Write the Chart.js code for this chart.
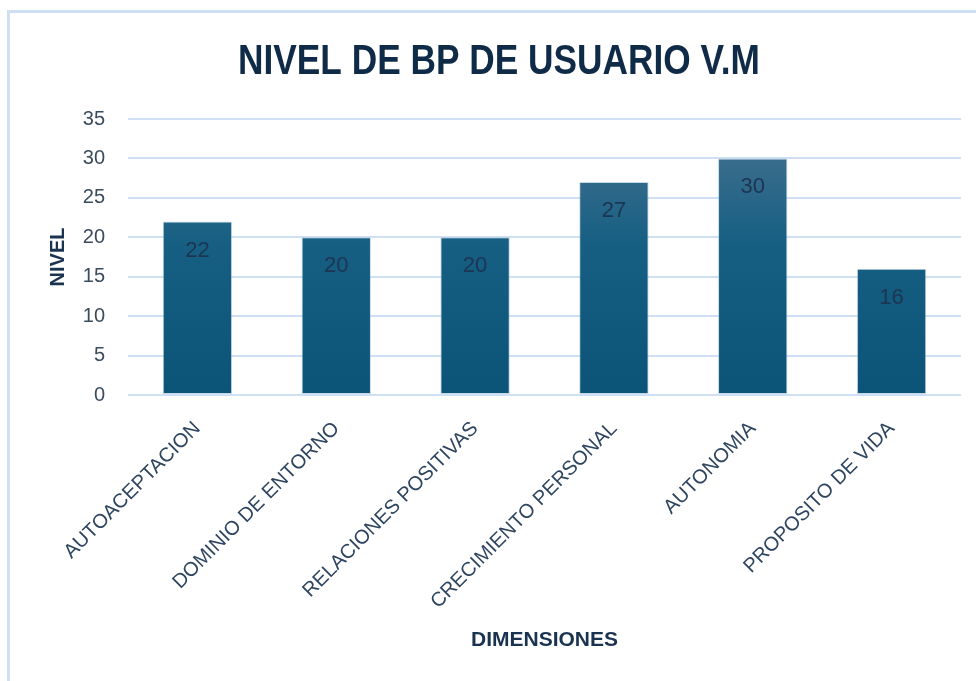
<!DOCTYPE html>
<html>
<head>
<meta charset="utf-8">
<script src="https://cdn.jsdelivr.net/npm/chart.js@4.4.1/dist/chart.umd.min.js"></script>
<style>
  html, body { margin: 0; padding: 0; background: #ffffff; overflow: hidden; }
  #wrap { position: relative; width: 976px; height: 681px; }
  #frame { position: absolute; left: 7px; top: 10px; width: 1000px; height: 700px; border: 3px solid #cddff3; box-sizing: border-box; pointer-events: none; }
  canvas { position: absolute; left: 0; top: 0; }
</style>
</head>
<body>
<div id="wrap">
  <div id="frame"></div>
  <canvas id="c" width="976" height="681"></canvas>
</div>
<script>
const categories = ["AUTOACEPTACION", "DOMINIO DE ENTORNO", "RELACIONES POSITIVAS", "CRECIMIENTO PERSONAL", "AUTONOMIA", "PROPOSITO DE VIDA"];
const nivelValues = [22, 20, 20, 27, 30, 16];
const chartTitle = "NIVEL DE BP DE USUARIO V.M";
const yAxisTitle = "NIVEL";
const xAxisTitle = "DIMENSIONES";
const yTicksMin = 0, yTicksMax = 35, yTickStep = 5;

function barGradient(ctx) {
  const chart = ctx.chart;
  const area = chart.chartArea;
  if (!area) return '#115f80';
  const el = ctx.element;
  let top = area.top, bottom = area.bottom;
  if (el && typeof el.y === 'number' && typeof el.base === 'number') { top = el.y; bottom = el.base; }
  const g = chart.ctx.createLinearGradient(0, top, 0, bottom);
  g.addColorStop(0, '#4a7391');
  g.addColorStop(0.45, '#165f83');
  g.addColorStop(1, '#0b5478');
  return g;
}

// condensed bold title drawn as real canvas text
const titlePlugin = {
  id: 'condensedTitle',
  afterDraw(chart) {
    const ctx = chart.ctx;
    ctx.save();
    ctx.font = 'bold 43px "Liberation Sans", Arial, sans-serif';
    ctx.fillStyle = '#102b47';
    ctx.textAlign = 'center';
    ctx.textBaseline = 'alphabetic';
    const w = ctx.measureText(chartTitle).width;
    const targetW = 522;
    const sx = targetW / w;
    ctx.translate(499, 74);
    ctx.scale(sx, 1);
    ctx.fillText(chartTitle, 0, 0);
    ctx.restore();
  }
};

const dataLabelPlugin = {
  id: 'dataLabels',
  afterDatasetsDraw(chart) {
    const ctx = chart.ctx;
    const meta = chart.getDatasetMeta(0);
    ctx.save();
    ctx.font = '22px "Liberation Sans", Arial, sans-serif';
    ctx.fillStyle = '#1d3452';
    ctx.textAlign = 'center';
    ctx.textBaseline = 'middle';
    meta.data.forEach((bar, i) => {
      ctx.fillText(String(chart.data.datasets[0].data[i]), bar.x, bar.y + 29);
    });
    ctx.restore();
  }
};

new Chart(document.getElementById('c'), {
  type: 'bar',
  data: {
    labels: categories,
    datasets: [{
      data: nivelValues,
      backgroundColor: barGradient,
      borderColor: 'rgba(150,185,210,0.55)',
      borderWidth: 1,
      borderSkipped: false,
      categoryPercentage: 1.0,
      barPercentage: 0.5
    }]
  },
  options: {
    responsive: false,
    animation: false,
    devicePixelRatio: 1,
    layout: { padding: { left: 0, right: 15, top: 119, bottom: 0 } },
    plugins: {
      legend: { display: false },
      tooltip: { enabled: false },
      title: { display: false }
    },
    scales: {
      x: {
        grid: { display: false, drawTicks: false },
        border: { display: false },
        ticks: {
          color: '#2e4560',
          font: { family: '"Liberation Sans", Arial, sans-serif', size: 20 },
          minRotation: 45,
          maxRotation: 45,
          autoSkip: false,
          padding: 22
        },
        title: {
          display: true,
          text: xAxisTitle,
          color: '#1a3350',
          font: { family: '"Liberation Sans", Arial, sans-serif', size: 21, weight: 'bold', lineHeight: 1.2 },
          padding: { top: 0, bottom: 28 }
        },
        afterFit(scale) { scale.height = 286; }
      },
      y: {
        min: yTicksMin,
        max: yTicksMax,
        grid: { color: '#cfe0f4', lineWidth: 2, drawTicks: false },
        border: { display: false },
        ticks: {
          stepSize: yTickStep,
          color: '#3b4b5e',
          font: { family: '"Liberation Sans", Arial, sans-serif', size: 20 },
          padding: 23
        },
        title: {
          display: true,
          text: yAxisTitle,
          color: '#1a3350',
          font: { family: '"Liberation Sans", Arial, sans-serif', size: 20, weight: 'bold', lineHeight: 1.2 },
          padding: { top: 46, bottom: 0 }
        },
        afterFit(scale) { scale.width = 128; }
      }
    }
  },
  plugins: [dataLabelPlugin, titlePlugin]
});
</script>
</body>
</html>
